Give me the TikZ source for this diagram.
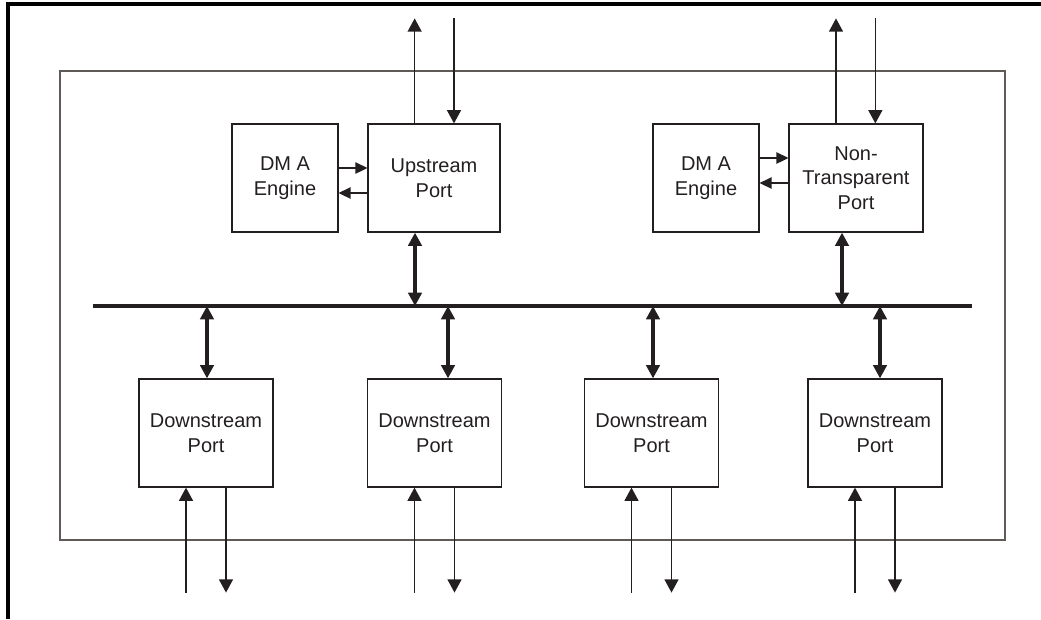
\documentclass[tikz,border=0pt]{standalone}
\usepackage{fontspec}
\setmainfont{Liberation Sans}
\usetikzlibrary{arrows.meta}
\definecolor{ink}{HTML}{231F20}
\definecolor{framegray}{HTML}{5F5A57}
\tikzset{every picture/.style={line width=0.75pt}}

\begin{document}
\begin{tikzpicture}[x=0.75pt,y=0.75pt,yscale=-1,xscale=1,
	portbox/.style={draw=ink, line width=0.9pt, inner sep=0pt, align=center, text=ink,
		font=\fontsize{15}{18.5}\selectfont, minimum height=81pt},
	linkarrow/.style={draw=ink, line width=1.2pt, -{Triangle[length=10pt,width=10.5pt]}},
	dmaarrow/.style={draw=ink, line width=1.2pt, -{Triangle[length=9pt,width=8.5pt]}},
	busarrow/.style={draw=ink, line width=2.8pt, {Triangle[length=10pt,width=10pt]}-{Triangle[length=10pt,width=10pt]}}]
			\useasboundingbox (0,0) rectangle (1041,619);
			
			%Outer frame (open on right and bottom)
			\draw [line width=2.4pt, black] (8,619) -- (8,4) -- (1041,4) ;
			%Switch outline
			\draw [draw=framegray, line width=1.1pt] (60,71) rectangle (1005,540) ;
			
			%Internal bus
			\coordinate (busL) at (93,306) ;
			\coordinate (busR) at (972,306) ;
			\draw [draw=ink, line width=3.2pt] (busL) -- (busR) ;
			
			% Upper left: DMA engine + upstream port
			\node [portbox, minimum width=79.5pt] (dmaA) at (285,178) {DM A\\Engine};
			\node [portbox, minimum width=99pt] (up) at (434,178) {Upstream\\Port};
			\draw [dmaarrow] (dmaA.east |- 0,168) -- (up.west |- 0,168) ;
			\draw [dmaarrow] (up.west |- 0,193) -- (dmaA.east |- 0,193) ;
			\draw [linkarrow] ([xshift=-14.5pt]up.north) -- ++(0,-105) ;
			\draw [linkarrow] ([xshift=15pt]up.north) ++(0,-105) -- ([xshift=15pt]up.north) ;
			\draw [busarrow] (up.south -| 415,0) -- (busL -| 415,0) ;
			
			% Upper right: DMA engine + non-transparent port
			\node [portbox, minimum width=79.5pt] (dmaB) at (706,178) {DM A\\Engine};
			\node [portbox, minimum width=100.5pt] (ntb) at (856,178) {Non-\\Transparent\\Port};
			\draw [dmaarrow] (dmaB.east |- 0,158) -- (ntb.west |- 0,158) ;
			\draw [dmaarrow] (ntb.west |- 0,183) -- (dmaB.east |- 0,183) ;
			\draw [linkarrow] ([xshift=-15pt]ntb.north) -- ++(0,-105) ;
			\draw [linkarrow] ([xshift=14.5pt]ntb.north) ++(0,-105) -- ([xshift=14.5pt]ntb.north) ;
			\draw [busarrow] (ntb.south -| 842,0) -- (busL -| 842,0) ;
			
			% Downstream ports
			\foreach \n/\cx/\bx in {1/206/207, 2/434.5/448, 3/651.5/653, 4/875/880} {
				\node [portbox, minimum width=100.5pt] (down\n) at (\cx,433) {Downstream\\Port};
				\draw [busarrow] (down\n.north -| \bx,0) -- (busL -| \bx,0) ;
				\draw [linkarrow] ([xshift=-15pt]down\n.south) ++(0,105) -- ([xshift=-15pt]down\n.south) ;
				\draw [linkarrow] ([xshift=15pt]down\n.south) -- ++(0,105) ;
			}
			
\end{tikzpicture}
\end{document}
